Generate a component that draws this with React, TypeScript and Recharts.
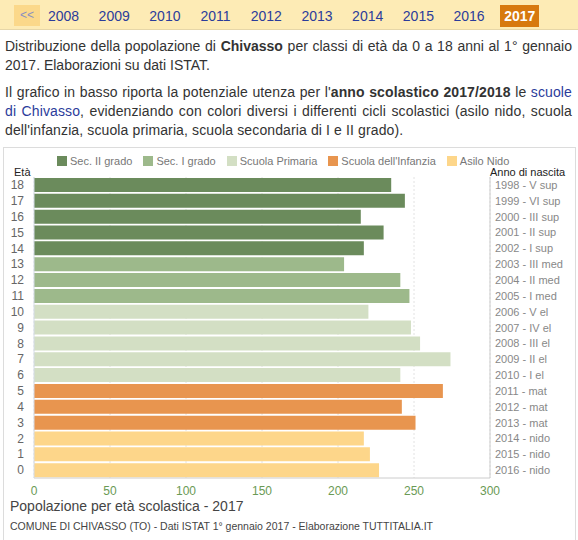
import { BarChart, Bar, XAxis, YAxis, CartesianGrid, Cell } from "recharts";

// età 18 -> 0 (dall'alto verso il basso)
const AGES = ["18", "17", "16", "15", "14", "13", "12", "11", "10", "9", "8", "7", "6", "5", "4", "3", "2", "1", "0"];
const BIRTH_LABELS = [
  "1998 - V sup", "1999 - VI sup", "2000 - III sup", "2001 - II sup", "2002 - I sup",
  "2003 - III med", "2004 - II med", "2005 - I med",
  "2006 - V el", "2007 - IV el", "2008 - III el", "2009 - II el", "2010 - I el",
  "2011 - mat", "2012 - mat", "2013 - mat",
  "2014 - nido", "2015 - nido", "2016 - nido",
];
const POPULATION = [235, 244, 215, 230, 217, 204, 241, 247, 220, 248, 254, 274, 241, 269, 242, 251, 217, 221, 227];
// indice del ciclo scolastico per ogni età
const CYCLE_OF_AGE = [0, 0, 0, 0, 0, 1, 1, 1, 2, 2, 2, 2, 2, 3, 3, 3, 4, 4, 4];

const CYCLES = ["Sec. II grado", "Sec. I grado", "Scuola Primaria", "Scuola dell'Infanzia", "Asilo Nido"];
const CYCLE_COLORS = ["#6b8b5c", "#9db98b", "#d3dfc4", "#e8954f", "#fdd68a"];

const YEARS = ["2008", "2009", "2010", "2011", "2012", "2013", "2014", "2015", "2016", "2017"];
const X_TICKS = [0, 50, 100, 150, 200, 250, 300];

const data = AGES.map((age, i) => ({
  age,
  label: BIRTH_LABELS[i],
  value: POPULATION[i],
  cycle: CYCLE_OF_AGE[i],
}));

const LINK = "#2b3c9b";

// etichette a destra senza andare a capo
// eslint-disable-next-line @typescript-eslint/no-explicit-any
const RightTick = (props: any) => {
  const { x, y, payload } = props;
  return (
    <text x={x - 3} y={y} dy={4} fill="#888" fontSize={11} textAnchor="start">
      {payload.value}
    </text>
  );
};

export default function App() {
  return (
    <div
      style={{
        position: "absolute",
        left: 0,
        top: 0,
        width: 578,
        height: 540,
        overflow: "hidden",
        background: "#fff",
        fontFamily: "Arial, 'Liberation Sans', sans-serif",
        color: "#333",
      }}
    >
      {/* barra anni */}
      <div
        style={{
          position: "absolute",
          left: 0,
          top: 0,
          width: 578,
          height: 29,
          background: "#fdebb5",
          borderBottom: "1px solid #e6d6a8",
        }}
      >
        <div
          style={{
            position: "absolute",
            left: 14,
            top: 5,
            width: 26,
            height: 21,
            background: "#fbd88a",
            color: "#8a8fc0",
            fontSize: 12,
            lineHeight: "21px",
            textAlign: "center",
          }}
        >
          &lt;&lt;
        </div>
        {YEARS.map((y, i) => {
          const last = i === YEARS.length - 1;
          return (
            <div
              key={y}
              style={{
                position: "absolute",
                left: 44 + i * 50.7,
                top: 5,
                width: 39,
                height: 22,
                lineHeight: "22px",
                textAlign: "center",
                fontSize: 14,
                color: last ? "#fff" : LINK,
                fontWeight: last ? "bold" : "normal",
                background: last ? "#d7790f" : "transparent",
              }}
            >
              {y}
            </div>
          );
        })}
      </div>

      {/* testo */}
      <div
        style={{
          position: "absolute",
          left: 5,
          top: 37,
          width: 567,
          fontSize: 14,
          lineHeight: "18.7px",
          textAlign: "justify",
        }}
      >
        <p style={{ margin: 0 }}>
          Distribuzione della popolazione di <b>Chivasso</b> per classi di età da 0 a 18 anni al 1° gennaio 2017.
          Elaborazioni su dati ISTAT.
        </p>
        <p style={{ margin: "9px 0 0 0", letterSpacing: 0.12 }}>
          Il grafico in basso riporta la potenziale utenza per l'<b>anno scolastico 2017/2018</b> le{" "}
          <span style={{ color: LINK }}>scuole di Chivasso</span>, evidenziando con colori diversi i differenti cicli
          scolastici (asilo nido, scuola dell'infanzia, scuola primaria, scuola secondaria di I e II grado).
        </p>
      </div>

      {/* riquadro grafico */}
      <div
        style={{
          position: "absolute",
          left: 3,
          top: 147,
          width: 571,
          height: 400,
          border: "1px solid #dcdcdc",
        }}
      />

      {/* legenda */}
      <div
        style={{
          position: "absolute",
          left: 57,
          top: 155,
          display: "flex",
          alignItems: "center",
          gap: 11,
          fontSize: 11,
          color: "#777",
        }}
      >
        {CYCLES.map((c, i) => (
          <div key={c} style={{ display: "flex", alignItems: "center" }}>
            <span
              style={{
                display: "inline-block",
                width: 10,
                height: 10,
                background: CYCLE_COLORS[i],
                marginRight: 3,
              }}
            />
            {c}
          </div>
        ))}
      </div>

      <div style={{ position: "absolute", left: 14, top: 166, fontSize: 11, color: "#222" }}>Età</div>
      <div style={{ position: "absolute", left: 490, top: 166, fontSize: 11, color: "#222" }}>Anno di nascita</div>

      <div style={{ position: "absolute", left: 3, top: 148 }}>
        <BarChart
          width={572}
          height={350}
          data={data}
          layout="vertical"
          margin={{ top: 29, right: 0, bottom: 0, left: 0 }}
        >
          <CartesianGrid horizontal={false} stroke="#e2e2e2" strokeDasharray="2 2" />
          <XAxis
            type="number"
            domain={[0, 300]}
            ticks={X_TICKS}
            tickLine={false}
            axisLine={{ stroke: "#ccc" }}
            tick={{ fill: "#6a9a55", fontSize: 12 }}
            height={20}
          />
          <YAxis
            yAxisId="left"
            type="category"
            dataKey="age"
            width={31}
            tickLine={false}
            axisLine={{ stroke: "#d5dce8" }}
            tick={{ fill: "#666", fontSize: 12 }}
            tickMargin={4}
            interval={0}
          />
          <YAxis
            yAxisId="right"
            orientation="right"
            type="category"
            dataKey="label"
            width={85}
            tickLine={false}
            axisLine={{ stroke: "#ccc" }}
            tick={RightTick}
            interval={0}
          />
          <Bar dataKey="value" yAxisId="left" barSize={14} isAnimationActive={false}>
            {data.map((d, i) => (
              <Cell key={`cell-${i}`} fill={CYCLE_COLORS[d.cycle]} />
            ))}
          </Bar>
        </BarChart>
      </div>

      <div style={{ position: "absolute", left: 10, top: 498, fontSize: 14, color: "#444" }}>
        Popolazione per età scolastica - 2017
      </div>
      <div style={{ position: "absolute", left: 10, top: 520, fontSize: 10.5, color: "#444" }}>
        COMUNE DI CHIVASSO (TO) - Dati ISTAT 1° gennaio 2017 - Elaborazione TUTTITALIA.IT
      </div>
    </div>
  );
}
